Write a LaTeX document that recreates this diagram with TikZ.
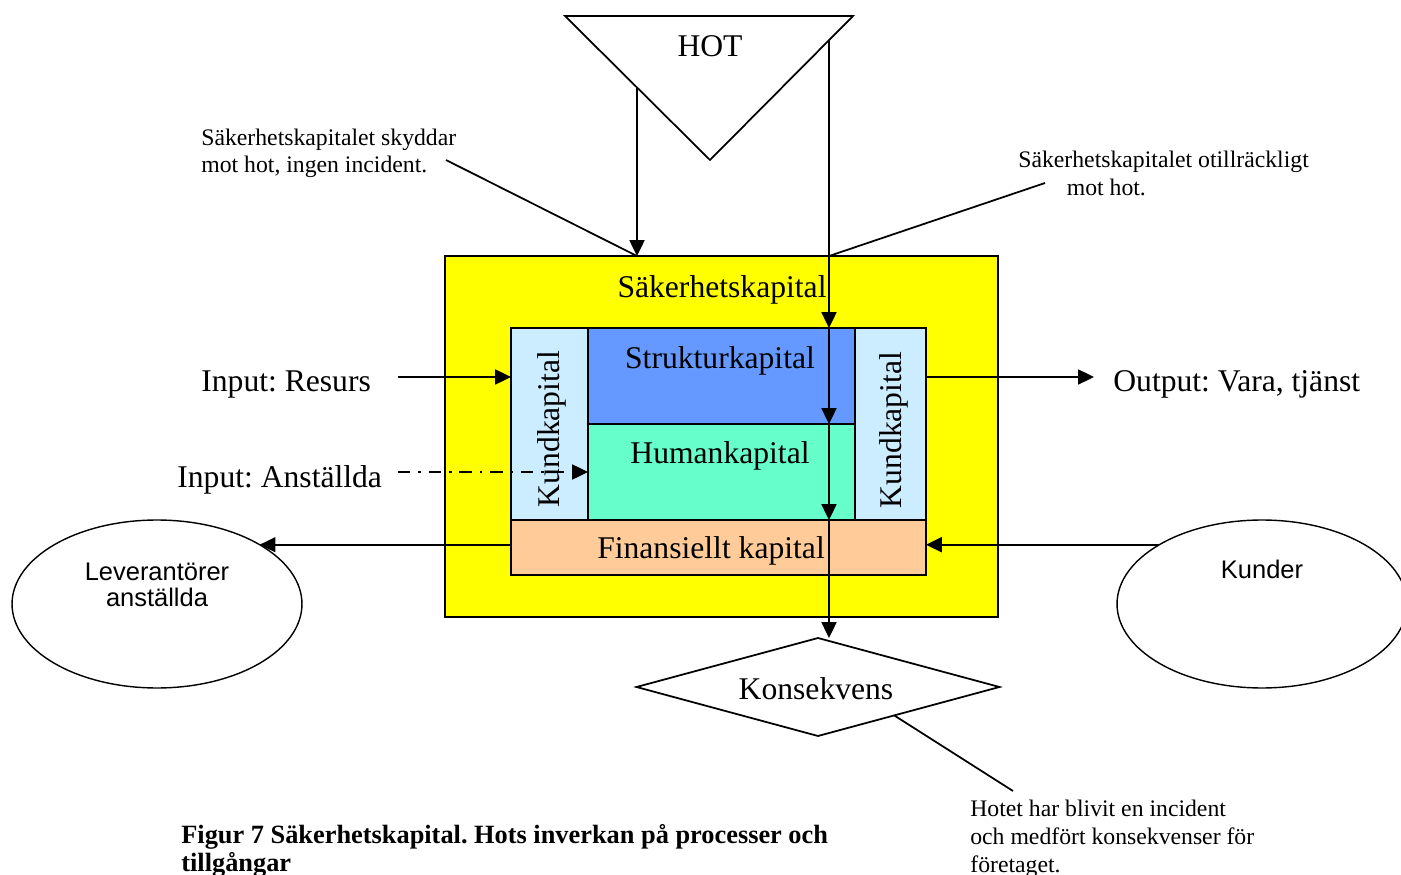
\documentclass[tikz,border=0pt]{standalone}
\usepackage{fontspec}
\setmainfont{Liberation Serif}
\newfontfamily\arialfont{Liberation Sans}
\usetikzlibrary{arrows.meta, positioning, shapes.geometric, calc}
\definecolor{sakyellow}{HTML}{FFFF00}
\definecolor{kundblue}{HTML}{CCECFF}
\definecolor{struktblue}{HTML}{6699FF}
\definecolor{humangreen}{HTML}{66FFCC}
\definecolor{finorange}{HTML}{FFCC99}
\tikzset{
	mybox/.style = {draw, line width=1pt, fill=#1, inner sep=0pt, outer sep=0pt},
	myarrow/.style = {line width=1.1pt, -{Triangle[length=9pt,width=8.5pt]}},
	myline/.style = {line width=1pt},
	bigtext/.style = {font=\fontsize{18}{21}\selectfont, inner sep=0pt},
	smalltext/.style = {font=\fontsize{13.5}{15.7}\selectfont, align=left, inner sep=0pt},
	myellipse/.style = {draw, ellipse, line width=0.8pt, minimum width=5.8cm, minimum height=3.36cm, inner sep=0pt, outer sep=0pt}
}

\begin{document}
\frenchspacing
\begin{tikzpicture}[x=0.02cm, y=-0.02cm]
\useasboundingbox (0,0) rectangle (1401,875);
% threat
\draw[myline] (565,16) -- (853,16) -- (710,160) -- cycle;
\node[bigtext, anchor=base] (hot) at (710,57) {HOT};
\coordinate (hotA) at (637,88);
\coordinate (hotB) at (829,40);
% capital boxes
\node[mybox=sakyellow, minimum width=11.06cm, minimum height=7.22cm] (sak) at (721.5,436.5) {};
\node[mybox=kundblue, minimum width=1.54cm, minimum height=3.84cm] (kundL) at (549.5,424) {};
\node[mybox=struktblue, minimum width=5.34cm, minimum height=1.92cm] (strukt) at (721.5,376) {};
\node[mybox=humangreen, minimum width=5.34cm, minimum height=1.92cm] (human) at (721.5,472) {};
\node[mybox=kundblue, minimum width=1.42cm, minimum height=3.84cm] (kundR) at (890.5,424) {};
\node[mybox=finorange, minimum width=8.3cm, minimum height=1.1cm] (fin) at (718.5,547.5) {};
\node[bigtext, anchor=base] (sakText) at (722,297) {Säkerhetskapital};
\node[bigtext, anchor=base] (struktText) at (720,368) {Strukturkapital};
\node[bigtext, anchor=base] (humanText) at (720,463) {Humankapital};
\node[bigtext, anchor=base] (finText) at (711,558) {Finansiellt kapital};
\node[bigtext, rotate=90] (kundLText) at (552,429) {Kundkapital};
\node[bigtext, rotate=90] (kundRText) at (894,430) {Kundkapital};
% inputs and outputs
\node[bigtext, anchor=base west] (inres) at (201,391) {Input: Resurs};
\node[bigtext, anchor=base west] (inanst) at (177,487) {Input: Anställda};
\node[bigtext, anchor=base west] (out) at (1113,391) {Output: Vara, tjänst};
\coordinate (inresA) at (398,377);
\coordinate (inanstA) at (398,472);
\coordinate (outA) at (1094,377);
\draw[myarrow] (inresA) -- (kundL.west |- inresA);
\draw[myarrow, dash pattern=on 7pt off 4.5pt on 1.5pt off 4.5pt] (inanstA) -- (human.west |- inanstA);
\draw[myarrow] (kundR.east |- outA) -- (outA);
% suppliers and customers
\node[myellipse] (lev) at (157,604) {};
\node[myellipse] (kund) at (1262,604) {};
\node[font=\arialfont\fontsize{14.5}{14.5}\selectfont, align=center, anchor=base, inner sep=0pt] (levText) at (157,606) {Leverantörer\\anställda};
\node[font=\arialfont\fontsize{14.5}{14.5}\selectfont, anchor=base, inner sep=0pt] (kundText) at (1262,578) {Kunder};
\draw[myarrow] (fin.west |- lev.30) -- (lev.30);
\draw[myarrow] (kund.150) -- (fin.east |- kund.150);
% consequence
\node[draw, diamond, line width=1pt, aspect=3.7, minimum width=7.26cm, minimum height=1.96cm, inner sep=0pt, outer sep=0pt] (konsek) at (818,687) {};
\node[bigtext, anchor=base] (konsekText) at (816,699) {Konsekvens};
% threat arrows
\draw[myarrow] (hotA) -- (hotA |- sak.north);
\draw[myarrow] (hotB) -- (hotB |- strukt.north);
\draw[myarrow] (hotB |- strukt.north) -- (hotB |- human.north);
\draw[myarrow] (hotB |- human.north) -- (hotB |- fin.north);
\draw[myarrow] (hotB |- fin.north) -- (hotB |- konsek.north);
% comments
\node[smalltext, anchor=base west] (skydd) at (201,173) {Säkerhetskapitalet skyddar\\mot hot, ingen incident.};
\node[smalltext, anchor=base west] (otill) at (1018,195) {Säkerhetskapitalet otillräckligt\\\hspace*{0.97cm}mot hot.};
\node[smalltext, anchor=base west] (hotet) at (970,872) {Hotet har blivit en incident\\och medfört konsekvenser för\\företaget.};
\coordinate (skyddEnd) at (446,160);
\coordinate (otillEnd) at (1045,183);
\coordinate (hotetEnd) at (1013,791);
\draw[myline] (skyddEnd) -- (hotA |- sak.north);
\draw[myline] (otillEnd) -- (hotB |- sak.north);
\draw[myline] ($(konsek.south)!0.42!(konsek.east)$) -- (hotetEnd);
% caption
\node[font=\bfseries\fontsize{15}{15.9}\selectfont, align=left, anchor=base west, inner sep=0pt] (caption) at (181,871) {Figur 7 Säkerhetskapital. Hots inverkan på processer och\\tillgångar};
\end{tikzpicture}
\end{document}
